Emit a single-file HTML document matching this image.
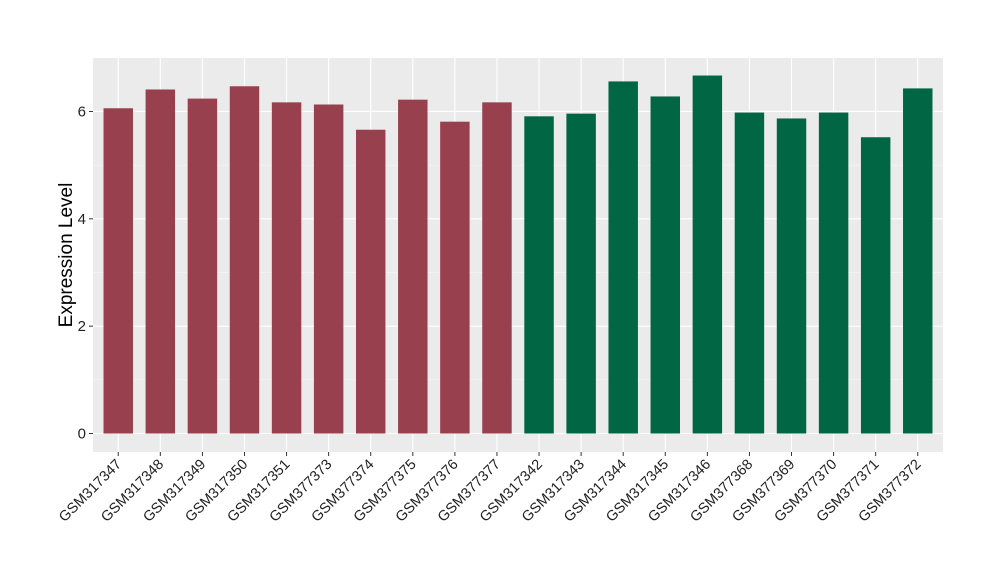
<!DOCTYPE html>
<html><head><meta charset="utf-8"><style>
body{margin:0;background:#fff;}
svg text{font-family:"Liberation Sans",Arial,sans-serif;}
</style></head><body>
<svg id="chart" width="1000" height="580" xmlns="http://www.w3.org/2000/svg">
<rect x="93" y="58" width="850" height="394" fill="#EBEBEB"/>
<g id="grid"></g><g id="bars"></g><g id="yaxis"></g><g id="xaxis"></g>
<text x="72" y="255" font-size="19" text-anchor="middle" transform="rotate(-90 72 255)">Expression Level</text>
</svg>
<script>
const categories=["GSM317347","GSM317348","GSM317349","GSM317350","GSM317351","GSM377373","GSM377374","GSM377375","GSM377376","GSM377377","GSM317342","GSM317343","GSM317344","GSM317345","GSM317346","GSM377368","GSM377369","GSM377370","GSM377371","GSM377372"];
const values=[6.06,6.41,6.24,6.47,6.17,6.13,5.66,6.22,5.81,6.17,5.91,5.96,6.56,6.28,6.67,5.98,5.87,5.98,5.52,6.43];
const groups=["a","a","a","a","a","a","a","a","a","a","b","b","b","b","b","b","b","b","b","b"];
const yTicks=[0,2,4,6];
const colors={a:"#99404F",b:"#006644"};
const NS="http://www.w3.org/2000/svg";
const L=93,R=943,T=58,B=452;
const n=categories.length;
const step=(R-L)/(n-1+1.2);
function xs(i){return L+(0.6+i)*step;}
function ys(v){return 433.5-v*53.67;}
function mk(tag,attrs,parent){const e=document.createElementNS(NS,tag);for(const k in attrs)e.setAttribute(k,attrs[k]);document.getElementById(parent).appendChild(e);return e;}
for(let v=-1;v<=7;v+=1){const y=ys(v);if(y<T||y>B)continue;
 const g=mk("line",{x1:L,x2:R,y1:y,y2:y,stroke:"#fff","stroke-width":v%2===0?1.1:0.5,opacity:v%2===0?1:0.7},"grid");
 
 }
categories.forEach((c,i)=>{const g=mk("line",{x1:xs(i),x2:xs(i),y1:T,y2:B,stroke:"#fff","stroke-width":1.1},"grid");
 
 });
const bw=step*0.7;
values.forEach((v,i)=>{const r=mk("rect",{x:xs(i)-bw/2,y:ys(v),width:bw,height:ys(0)-ys(v),fill:colors[groups[i]]},"bars");
 
 });
yTicks.forEach(t=>{const y=ys(t);
 const tk=mk("line",{x1:L-4,x2:L,y1:y,y2:y,stroke:"#333","stroke-width":1},"yaxis");
 
 
 const tx=mk("text",{x:L-7,y:y+5,"font-size":15,"text-anchor":"end",fill:"#222"},"yaxis");tx.textContent=t;
 
 });
categories.forEach((c,i)=>{const x=xs(i);
 const tk=mk("line",{x1:x,x2:x,y1:B,y2:B+4,stroke:"#333","stroke-width":1},"xaxis");
 
 
 const tx=mk("text",{x:x+4,y:B+13,"font-size":14.5,"text-anchor":"end",fill:"#222",transform:`rotate(-45 ${x+4} ${B+13})`},"xaxis");tx.textContent=c;
 
 });
</script>
</body></html>
